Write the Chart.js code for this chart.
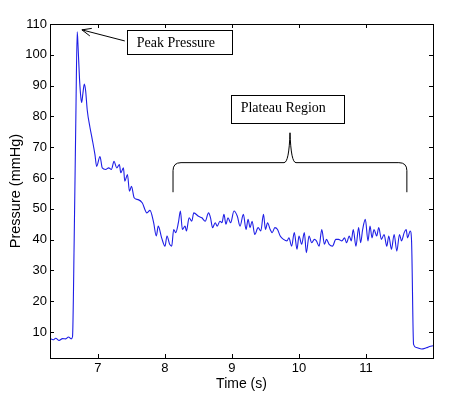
<!DOCTYPE html>
<html>
<head>
<meta charset="utf-8">
<script src="https://cdn.jsdelivr.net/npm/chart.js@4"></script>
<style>
	html, body { margin: 0; padding: 0; background: #fff; }
	#wrap { width: 450px; height: 393px; }
</style>
</head>
<body>
<div id="wrap"><canvas id="chart-pressure" width="450" height="393"></canvas></div>
<script>
// time (s) and pressure (mmHg)
let times = [
	6.284, 6.33, 6.37, 6.42, 6.47, 6.52, 6.56, 6.60, 6.62, 6.645, 6.67, 6.69, 6.70, 6.725, 6.745, 6.757, 6.775, 6.796, 6.815, 6.84,
	6.88, 6.915, 6.955, 6.98, 7.03, 7.064, 7.115, 7.16, 7.20, 7.24, 7.28, 7.32, 7.34, 7.38, 7.40, 7.44, 7.47, 7.50, 7.54, 7.60,
	7.66, 7.73, 7.776, 7.83, 7.87, 7.90, 7.95, 8.0, 8.03, 8.07, 8.10, 8.13, 8.16, 8.20, 8.23, 8.26, 8.30, 8.32, 8.36, 8.40,
	8.43, 8.50, 8.55, 8.60, 8.65, 8.68, 8.71, 8.75, 8.78, 8.82, 8.85, 8.88, 8.91, 8.94, 8.98, 9.03, 9.08, 9.12, 9.17, 9.21,
	9.24, 9.27, 9.30, 9.34, 9.39, 9.43, 9.47, 9.50, 9.53, 9.57, 9.60, 9.64, 9.68, 9.72, 9.77, 9.82, 9.85, 9.89, 9.93, 9.97,
	10.0, 10.04, 10.08, 10.11, 10.15, 10.19, 10.23, 10.26, 10.30, 10.34, 10.38, 10.41, 10.45, 10.50, 10.55, 10.59, 10.64, 10.68, 10.71, 10.75,
	10.78, 10.81, 10.85, 10.89, 10.92, 10.95, 10.99, 11.03, 11.06, 11.09, 11.12, 11.16, 11.19, 11.23, 11.27, 11.31, 11.34, 11.38, 11.42, 11.46,
	11.50, 11.53, 11.57, 11.60, 11.62, 11.66, 11.68, 11.71, 11.75, 11.83, 11.90, 11.95, 12.0
]
let pressures = [
	8.0, 7.5, 8.0, 7.3, 7.9, 7.8, 8.4, 7.8, 8.5, 40, 80, 107.5, 104, 92, 86, 84.5, 87.5, 90.5, 88.5, 82,
	76.5, 72.5, 67.6, 63.8, 67.0, 63.3, 62.8, 63.3, 62.8, 65.4, 63.3, 64.4, 61.7, 63.3, 59, 61.1, 55.7, 57.3, 53.6, 53.0,
	52, 48.7, 49.5, 45.6, 41.2, 44.4, 40.6, 37.9, 41.2, 38.5, 37.9, 43.3, 42.3, 45.5, 49.3, 43.3, 44.4, 42.8, 47.1, 46.0,
	48.7, 47.6, 47.1, 46.0, 48.7, 47.1, 43.9, 45.5, 44.4, 46.0, 45.5, 48.2, 45.0, 47.1, 45.5, 49.3, 47.6, 44.4, 48.2, 43.3,
	46.6, 43.9, 46.0, 41.7, 43.9, 42.8, 48.2, 43.3, 45.5, 43.3, 42.3, 43.9, 43.3, 41.2, 40.1, 39.6, 40.6, 37.9, 42.3, 36.9,
	41.2, 38.5, 42.3, 35.8, 41.2, 39.0, 40.1, 39.6, 37.9, 43.3, 38.5, 40.1, 38.5, 37.9, 40.1, 40.1, 39.6, 40.6, 39.0, 41.2,
	39.6, 43.3, 37.9, 43.9, 39.0, 43.3, 46.6, 39.6, 44.4, 40.6, 43.3, 41.2, 43.9, 40.1, 41.7, 37.9, 41.2, 36.9, 41.7, 36.3,
	41.7, 39.6, 42.3, 43.3, 40.6, 42.8, 39.6, 6.0, 5.0, 4.5, 4.9, 5.3, 5.6
]

let xTicks = [7, 8, 9, 10, 11]
let yTicks = [10, 20, 30, 40, 50, 60, 70, 80, 90, 100, 110]
let xRange = [6.284, 12.0]
let yRange = [1.6, 110]

let xTitle = 'Time (s)'
let yTitle = 'Pressure (mmHg)'
let peakLabel = 'Peak Pressure'
let plateauLabel = 'Plateau Region'

// matlab style box with inward ticks + the two annotations
let matlabAxes = {
	id: 'matlabAxes',
	afterDraw: function(chart) {
		let ctx = chart.ctx
		let a = chart.chartArea
		let xs = chart.scales.x
		let ys = chart.scales.y
		ctx.save()
		ctx.strokeStyle = '#000'
		ctx.lineWidth = 1
		ctx.strokeRect(Math.round(a.left) + 0.5, Math.round(a.top) + 0.5, Math.round(a.right - a.left), Math.round(a.bottom - a.top))
		ctx.beginPath()
		xTicks.forEach(v => {
			let px = Math.round(xs.getPixelForValue(v)) + 0.5
			ctx.moveTo(px, a.bottom); ctx.lineTo(px, a.bottom - 4)
			ctx.moveTo(px, a.top); ctx.lineTo(px, a.top + 4)
		})
		yTicks.forEach(v => {
			let py = Math.round(ys.getPixelForValue(v)) + 0.5
			ctx.moveTo(a.left, py); ctx.lineTo(a.left + 4, py)
			ctx.moveTo(a.right, py); ctx.lineTo(a.right - 4, py)
		})
		ctx.stroke()

		let X = v => xs.getPixelForValue(v)
		let Y = v => ys.getPixelForValue(v)

		// label boxes
		ctx.font = '14px "Liberation Serif", "Times New Roman", serif'
		ctx.fillStyle = '#000'
		ctx.textBaseline = 'alphabetic'
		ctx.strokeRect(Math.round(X(7.433)) + 0.5, Math.round(Y(108.1)) + 0.5, Math.round(X(9.0) - X(7.433)), Math.round(Y(100.3) - Y(108.1)))
		ctx.fillText(peakLabel, X(7.58), Y(102.5))
		ctx.strokeRect(Math.round(X(8.985)) + 0.5, Math.round(Y(87.0)) + 0.5, Math.round(X(10.67) - X(8.985)), Math.round(Y(78.0) - Y(87.0)))
		ctx.fillText(plateauLabel, X(9.13), Y(81.3))

		// arrow to the peak
		let x1 = X(7.40), y1 = Y(104.5), x2 = X(6.76), y2 = Y(108.1)
		let ang = Math.atan2(y2 - y1, x2 - x1)
		ctx.beginPath()
		ctx.moveTo(x1, y1); ctx.lineTo(x2, y2)
		ctx.moveTo(x2 - 10 * Math.cos(ang - 0.4), y2 - 10 * Math.sin(ang - 0.4))
		ctx.lineTo(x2, y2)
		ctx.lineTo(x2 - 10 * Math.cos(ang + 0.4), y2 - 10 * Math.sin(ang + 0.4))
		ctx.stroke()

		// curly brace over the plateau
		let bl = X(8.12), br = X(11.61), bc = X(9.866)
		let bTop = Y(74.7), bMid = Y(65.0), bBot = Y(55.4)
		ctx.beginPath()
		ctx.moveTo(bl, bBot)
		ctx.lineTo(bl, bMid + 8)
		ctx.quadraticCurveTo(bl, bMid, bl + 8, bMid)
		ctx.lineTo(bc - 6, bMid)
		ctx.quadraticCurveTo(bc - 1, bMid, bc, bTop)
		ctx.quadraticCurveTo(bc + 1, bMid, bc + 6, bMid)
		ctx.lineTo(br - 8, bMid)
		ctx.quadraticCurveTo(br, bMid, br, bMid + 8)
		ctx.lineTo(br, bBot)
		ctx.stroke()
		ctx.restore()
	}
}

document.addEventListener('DOMContentLoaded', function() {
	Chart.defaults.font.family = '"Liberation Sans", Arial, sans-serif'
	Chart.defaults.font.size = 13
	Chart.defaults.color = '#000'

	let pressureElem = document.getElementById('chart-pressure').getContext('2d')
	new Chart(pressureElem, {
		type: 'line',
		data: {
			datasets: [{
				data: times.map((t, i) => ({ x: t, y: pressures[i] })),
				borderColor: 'rgb(30, 30, 230)',
				borderWidth: 1.1,
				pointRadius: 0,
				fill: false,
				tension: 0.4,
				cubicInterpolationMode: 'monotone'
			}]
		},
		options: {
			responsive: false,
			animation: false,
			events: [],
			layout: { padding: { left: 7, top: 24, right: 17, bottom: 0 } },
			plugins: {
				legend: { display: false },
				tooltip: { enabled: false }
			},
			scales: {
				x: {
					type: 'linear',
					min: xRange[0],
					max: xRange[1],
					grid: { display: false, drawTicks: false },
					border: { display: false },
					ticks: { padding: 3, maxRotation: 0, callback: v => v },
					title: { display: true, text: xTitle, font: { size: 14 }, padding: { top: 0, bottom: 0 } },
					afterBuildTicks: function(scale) { scale.ticks = xTicks.map(v => ({ value: v })) },
					afterFit: function(scale) { scale.height = 35 }
				},
				y: {
					type: 'linear',
					min: yRange[0],
					max: yRange[1],
					grid: { display: false, drawTicks: false },
					border: { display: false },
					ticks: { padding: 3, callback: v => v },
					title: { display: true, text: yTitle, font: { size: 14.5 }, padding: { top: 0, bottom: 0 } },
					afterBuildTicks: function(scale) { scale.ticks = yTicks.map(v => ({ value: v })) },
					afterFit: function(scale) { scale.width = 43 }
				}
			}
		},
		plugins: [matlabAxes]
	})
})
</script>
</body>
</html>
